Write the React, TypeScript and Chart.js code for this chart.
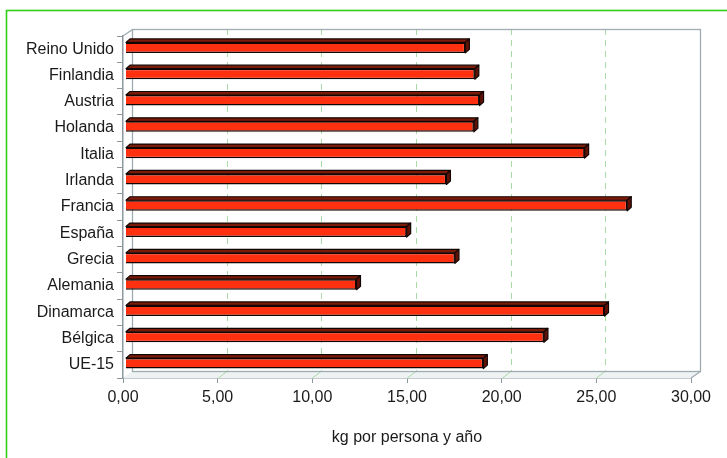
import React, { useEffect, useRef } from "react";
import { Chart, registerables } from "chart.js";

Chart.register(...registerables);

const categories = [
  "Reino Unido",
  "Finlandia",
  "Austria",
  "Holanda",
  "Italia",
  "Irlanda",
  "Francia",
  "España",
  "Grecia",
  "Alemania",
  "Dinamarca",
  "Bélgica",
  "UE-15",
];
const values = [17.95, 18.45, 18.7, 18.4, 24.25, 16.95, 26.5, 14.85, 17.4, 12.2, 25.3, 22.1, 18.9];
const xTicks = [0, 5, 10, 15, 20, 25, 30];
const axisTitle = "kg por persona y año";

const WALL_DX = 9;
const WALL_DY = 7;
const BAR_DX = 2.5;
const BAR_DY = 1.5;
const DEPTH_X = 4;
const DEPTH_Y = 3.5;

const FONT = "'Liberation Sans', Arial, sans-serif";

const excel3d = {
  id: "excel3d",
  beforeDraw(chart: any) {
    const ctx = chart.ctx;
    ctx.save();
    ctx.fillStyle = "#ffffff";
    ctx.fillRect(0, 0, chart.width, chart.height);
    ctx.strokeStyle = "#33cc1a";
    ctx.lineWidth = 1.6;
    ctx.strokeRect(6.5, 10.5, chart.width + 40, chart.height + 40);
    ctx.restore();
  },
  beforeDatasetsDraw(chart: any) {
    const ctx = chart.ctx;
    const a = chart.chartArea;
    const xs = chart.scales.x;
    ctx.save();
    // floor
    ctx.fillStyle = "#eef2f3";
    ctx.beginPath();
    ctx.moveTo(a.left, a.bottom);
    ctx.lineTo(a.right, a.bottom);
    ctx.lineTo(a.right + WALL_DX, a.bottom - WALL_DY);
    ctx.lineTo(a.left + WALL_DX, a.bottom - WALL_DY);
    ctx.closePath();
    ctx.fill();
    // gridlines on back wall
    ctx.strokeStyle = "#a9dba9";
    ctx.lineWidth = 1;
    ctx.setLineDash([6, 5]);
    xTicks.forEach((v) => {
      if (v === xTicks[0] || v === xTicks[xTicks.length - 1]) return;
      const px = Math.round(xs.getPixelForValue(v)) + WALL_DX + 0.5;
      ctx.beginPath();
      ctx.moveTo(px, a.top - WALL_DY);
      ctx.lineTo(px, a.bottom - WALL_DY);
      ctx.stroke();
    });
    ctx.setLineDash([]);
    // gridlines on floor
    xTicks.forEach((v) => {
      if (v === xTicks[0] || v === xTicks[xTicks.length - 1]) return;
      const px = Math.round(xs.getPixelForValue(v)) + WALL_DX + 0.5;
      ctx.beginPath();
      ctx.moveTo(px, a.bottom - WALL_DY);
      ctx.lineTo(px - WALL_DX, a.bottom);
      ctx.stroke();
    });
    // wall frame
    ctx.strokeStyle = "#9eabb1";
    ctx.lineWidth = 1.3;
    const L = Math.round(a.left + WALL_DX) + 0.5;
    const R = Math.round(a.right + WALL_DX) + 0.5;
    const T = Math.round(a.top - WALL_DY) + 0.5;
    const B = Math.round(a.bottom - WALL_DY) + 0.5;
    ctx.strokeRect(L, T, R - L, B - T);
    ctx.beginPath();
    ctx.moveTo(a.left, a.top);
    ctx.lineTo(L, T);
    ctx.moveTo(a.right, a.bottom);
    ctx.lineTo(R, B);
    ctx.stroke();
    ctx.restore();
    ctx.save();
    ctx.translate(BAR_DX, -BAR_DY);
  },
  afterDatasetsDraw(chart: any) {
    const ctx = chart.ctx;
    const meta = chart.getDatasetMeta(0);
    meta.data.forEach((el: any) => {
      const p = el.getProps(["x", "y", "base", "height"], true);
      const top = p.y - p.height / 2;
      const bottom = p.y + p.height / 2;
      ctx.lineWidth = 1.2;
      ctx.lineJoin = "round";
      ctx.strokeStyle = "#120604";
      // top face
      ctx.fillStyle = "#7c1a08";
      ctx.beginPath();
      ctx.moveTo(p.base, top);
      ctx.lineTo(p.x, top);
      ctx.lineTo(p.x + DEPTH_X, top - DEPTH_Y);
      ctx.lineTo(p.base + DEPTH_X, top - DEPTH_Y);
      ctx.closePath();
      ctx.fill();
      ctx.stroke();
      // right face
      ctx.fillStyle = "#5e1206";
      ctx.beginPath();
      ctx.moveTo(p.x, top);
      ctx.lineTo(p.x + DEPTH_X, top - DEPTH_Y);
      ctx.lineTo(p.x + DEPTH_X, bottom - DEPTH_Y);
      ctx.lineTo(p.x, bottom);
      ctx.closePath();
      ctx.fill();
      ctx.stroke();
    });
    ctx.restore();
  },
};

export default function App() {
  const ref = useRef<HTMLCanvasElement | null>(null);
  useEffect(() => {
    if (!ref.current) return;
    const chart = new Chart(ref.current, {
      type: "bar",
      data: {
        labels: categories,
        datasets: [
          {
            data: values,
            backgroundColor: "#ff3010",
            borderColor: "#120604",
            borderWidth: 1.5,
            barPercentage: 0.4,
            categoryPercentage: 1,
          },
        ],
      },
      options: {
        indexAxis: "y",
        animation: false,
        responsive: true,
        maintainAspectRatio: false,
        layout: { padding: { top: 36, right: 36, left: 0, bottom: 0 } },
        plugins: { legend: { display: false }, tooltip: { enabled: false } },
        scales: {
          x: {
            type: "linear",
            min: 0,
            max: 30,
            afterBuildTicks: (s: any) => {
              s.ticks = xTicks.map((v) => ({ value: v }));
            },
            ticks: {
              callback: (v: any) => Number(v).toFixed(2).replace(".", ","),
              font: { family: FONT, size: 16 },
              color: "#1a1a1a",
              padding: 5,
            },
            grid: { drawOnChartArea: false, drawTicks: true, tickLength: 5, color: "#8c989e" },
            border: { display: true, color: "#8c989e", width: 1.5 },
            title: {
              display: true,
              text: axisTitle,
              font: { family: FONT, size: 16 },
              color: "#1a1a1a",
              padding: { top: 0, bottom: 11 },
            },
            afterFit: (s: any) => {
              s.height = 80;
            },
          },
          y: {
            type: "category",
            grid: { drawOnChartArea: false, drawTicks: true, tickLength: 6, color: "#8c989e", offset: true },
            border: { display: true, color: "#8c989e", width: 1.5 },
            ticks: {
              font: { family: FONT, size: 16 },
              color: "#1a1a1a",
              padding: 3,
            },
            afterFit: (s: any) => {
              s.width = 123;
            },
          },
        },
      } as any,
      plugins: [excel3d as any],
    });
    return () => chart.destroy();
  }, []);
  return (
    <div style={{ position: "absolute", left: 0, top: 0, width: 727, height: 458 }}>
      <canvas ref={ref} />
    </div>
  );
}
